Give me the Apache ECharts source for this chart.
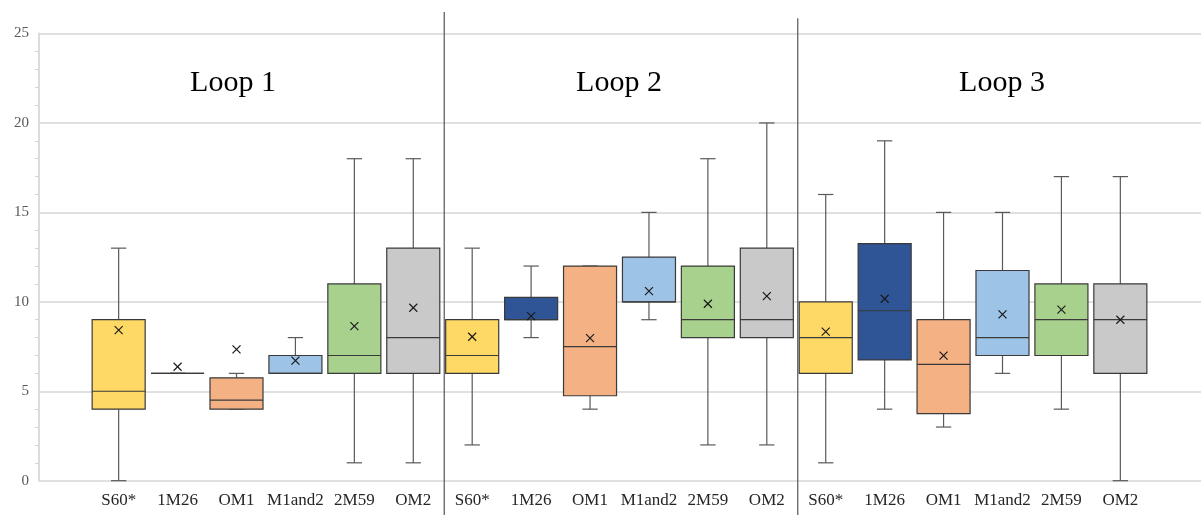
<!DOCTYPE html>
<html>
<head>
<meta charset="utf-8">
<script src="https://cdn.jsdelivr.net/npm/echarts@6/dist/echarts.min.js"></script>
<style>
  html, body { margin: 0; padding: 0; background: #ffffff; }
  #chart { width: 1201px; height: 515px; }
</style>
</head>
<body>
<div id="chart"></div>
<script>
// Loops and the strains measured in each loop
const loops = ['Loop 1', 'Loop 2', 'Loop 3'];
const groups = ['S60*', '1M26', 'OM1', 'M1and2', '2M59', 'OM2'];
const groupColors = ['#FFD966', '#2F5597', '#F4B183', '#9DC3E6', '#A9D18E', '#C9C9C9'];

// Five-number summaries per strain: [min, Q1, median, Q3, max]
const loop1Box = [[0, 4, 5, 9, 13], [6, 6, 6, 6, 6], [4, 4, 4.5, 5.75, 6], [6, 6, 6, 7, 8], [1, 6, 7, 11, 18], [1, 6, 8, 13, 18]];
const loop2Box = [[2, 6, 7, 9, 13], [8, 9, 9, 10.25, 12], [4, 4.75, 7.5, 12, 12], [9, 10, 10, 12.5, 15], [2, 8, 9, 12, 18], [2, 8, 9, 13, 20]];
const loop3Box = [[1, 6, 8, 10, 16], [4, 6.75, 9.5, 13.25, 19], [3, 3.75, 6.5, 9, 15], [6, 7, 8, 11.75, 15], [4, 7, 9, 11, 17], [0, 6, 9, 11, 17]];

// Mean per strain (drawn as ×)
const loop1Mean = [8.42, 6.37, 7.34, 6.71, 8.64, 9.67];
const loop2Mean = [8.05, 9.2, 7.97, 10.6, 9.89, 10.32];
const loop3Mean = [8.33, 10.17, 6.99, 9.3, 9.56, 9.0];

// Y axis range
const yMin = 0, yMax = 25, yStep = 5;

// Vertical dividers between loops: top end (in axis units) and bottom end
const dividerTop = [26.2, 25.85];
const dividerBottom = -2;

// Title positions
const titleX = [233, 619, 1002];

const boxSets = [loop1Box, loop2Box, loop3Box];
const meanSets = [loop1Mean, loop2Mean, loop3Mean];

const categories = [];
const boxData = [];
loops.forEach((loop, li) => {
  groups.forEach((g, gi) => {
    const idx = categories.length;
    categories.push(loop + '|' + g);
    boxData.push([idx].concat(boxSets[li][gi], [meanSets[li][gi], gi]));
  });
});
const dividerData = [];
for (let li = 1; li < loops.length; li++) {
  dividerData.push([li * groups.length - 1, dividerTop[li - 1], dividerBottom]);
}

const SERIF = "'Liberation Serif', 'Times New Roman', serif";
const PLOT_TOP = 33.5, PLOT_H = 447.2;

function renderBox(params, api) {
  const c = api.value(0);
  const val = k => api.coord([c, api.value(k)])[1];
  const x = api.coord([c, 0])[0];
  const band = api.size([1, 0])[0];
  const half = band * 0.9 / 2;
  const capHalf = band * 0.13;
  const yMinV = val(1), q1 = val(2), med = val(3), q3 = val(4), yMaxV = val(5), mean = val(6);
  const color = groupColors[api.value(7)];
  const whisk = { stroke: '#595959', lineWidth: 1.2 };
  const border = { stroke: '#3a3a3a', lineWidth: 1.2 };
  const mk = 4;
  return {
    type: 'group',
    children: [
      { type: 'line', shape: { x1: x, y1: q3, x2: x, y2: yMaxV }, style: whisk },
      { type: 'line', shape: { x1: x, y1: q1, x2: x, y2: yMinV }, style: whisk },
      { type: 'line', shape: { x1: x - capHalf, y1: yMaxV, x2: x + capHalf, y2: yMaxV }, style: whisk },
      { type: 'line', shape: { x1: x - capHalf, y1: yMinV, x2: x + capHalf, y2: yMinV }, style: whisk },
      { type: 'rect', shape: { x: x - half, y: q3, width: half * 2, height: q1 - q3 },
        style: Object.assign({ fill: color }, border) },
      { type: 'line', shape: { x1: x - half, y1: med, x2: x + half, y2: med }, style: border },
      { type: 'line', shape: { x1: x - mk, y1: mean - mk, x2: x + mk, y2: mean + mk }, style: { stroke: '#1a1a1a', lineWidth: 1.2 } },
      { type: 'line', shape: { x1: x - mk, y1: mean + mk, x2: x + mk, y2: mean - mk }, style: { stroke: '#1a1a1a', lineWidth: 1.2 } }
    ]
  };
}

function renderDivider(params, api) {
  const c = api.value(0);
  const xa = api.coord([c, 0])[0];
  const xb = api.coord([c + 1, 0])[0];
  const x = (xa + xb) / 2 + 1.5;
  const yTop = api.coord([c, api.value(1)])[1];
  const yBot = api.coord([c, api.value(2)])[1];
  return { type: 'line', shape: { x1: x, y1: yTop, x2: x, y2: yBot }, style: { stroke: '#555555', lineWidth: 1.2 } };
}

const chart = echarts.init(document.getElementById('chart'), null, { renderer: 'canvas' });
chart.setOption({
  animation: false,
  backgroundColor: '#ffffff',
  grid: [
    { left: 39, right: 0, top: PLOT_TOP, height: PLOT_H },
    { left: 89.2, width: 1060.6, top: PLOT_TOP, height: PLOT_H }
  ],
  xAxis: [
    { gridIndex: 0, type: 'value', min: 0, max: 1, show: false },
    {
      gridIndex: 1, type: 'category', data: categories,
      axisLine: { show: false }, axisTick: { show: false },
      axisLabel: {
        interval: 0, margin: 11, fontFamily: SERIF, fontSize: 17, color: '#262626',
        formatter: v => v.split('|')[1]
      }
    }
  ],
  yAxis: [
    {
      gridIndex: 0, type: 'value', min: yMin, max: yMax, interval: yStep,
      axisLine: { show: true, lineStyle: { color: '#dcdcdc', width: 2 } },
      axisTick: { show: false },
      minorTick: { show: true, splitNumber: 5, length: 4, lineStyle: { color: '#d6d6d6', width: 1 } },
      splitLine: { show: true, lineStyle: { color: '#e0e0e0', width: 2 } },
      axisLabel: { margin: 10, fontFamily: SERIF, fontSize: 15, color: '#595959' }
    },
    { gridIndex: 1, type: 'value', min: yMin, max: yMax, show: false }
  ],
  graphic: loops.map((t, i) => ({
    type: 'text', x: titleX[i], y: 83,
    style: { text: t, fontFamily: SERIF, fontSize: 30, fill: '#000000', textAlign: 'center', textVerticalAlign: 'middle' }
  })),
  series: [
    {
      type: 'custom', xAxisIndex: 1, yAxisIndex: 1, clip: false,
      renderItem: renderDivider, data: dividerData, silent: true, z: 1
    },
    {
      type: 'custom', xAxisIndex: 1, yAxisIndex: 1,
      renderItem: renderBox, data: boxData,
      encode: { x: 0, y: [1, 2, 3, 4, 5, 6] }, z: 2
    }
  ]
});
</script>
</body>
</html>
